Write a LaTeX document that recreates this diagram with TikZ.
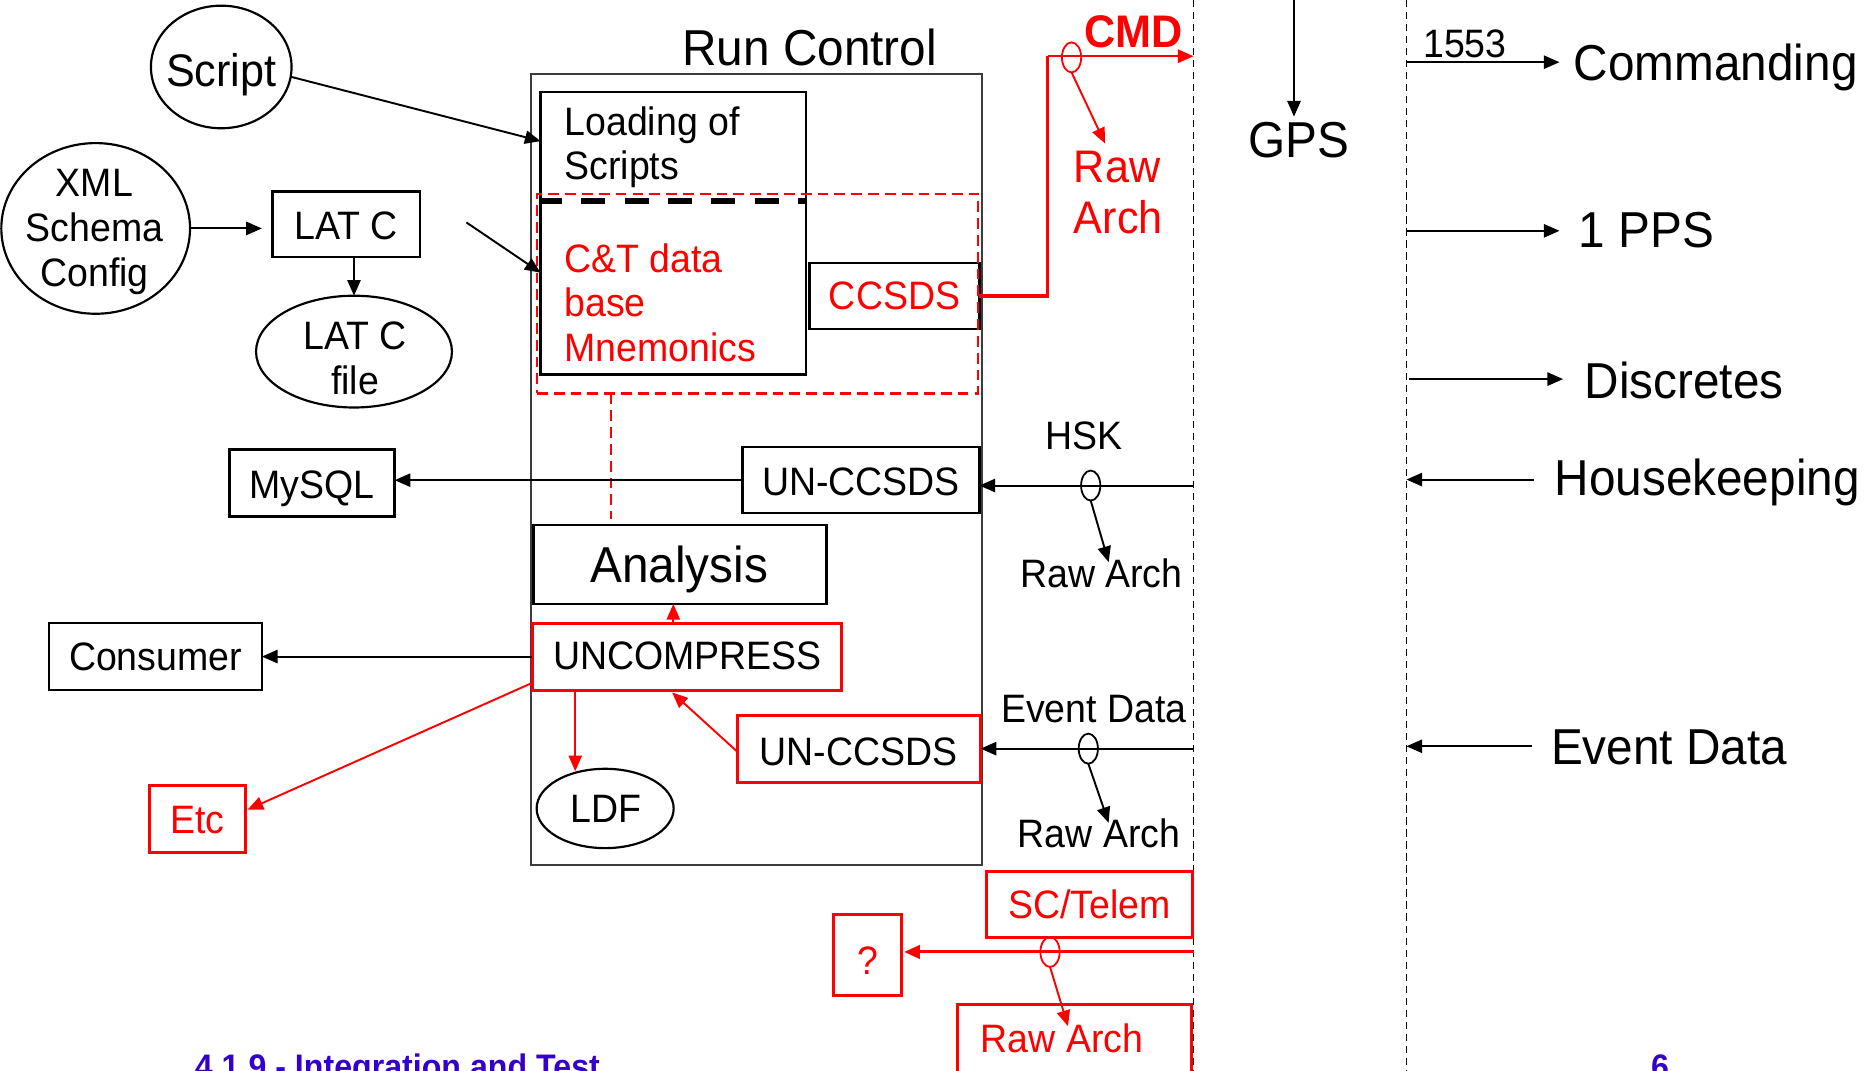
\documentclass[tikz,border=0pt]{standalone}
\usepackage{fontspec}
\setmainfont{Liberation Sans}[FakeStretch=0.945]
\usetikzlibrary{arrows.meta,shapes.geometric,fit,calc}
\definecolor{fblue}{RGB}{51,0,204}
\definecolor{rcgray}{RGB}{60,60,60}
\begin{document}
\begin{tikzpicture}[x=0.995pt,y=-0.995pt,
  every node/.style={inner sep=0pt,outer sep=0pt},
  fs/.style={font=\fontsize{33}{37.5}\selectfont},
  fm/.style={font=\fontsize{38}{42}\selectfont},
  fl/.style={font=\fontsize{42}{48}\selectfont},
  ff/.style={font=\fontsize{28.3}{34}\selectfont\bfseries, text=fblue},
  bx/.style={draw, line width=2pt},
  rbx/.style={draw=red, line width=2.5pt},
  ell/.style={draw, ellipse, line width=1.8pt},
  arr/.style={-{Triangle[length=13pt,width=11pt]}, line width=1.6pt},
  rarr/.style={arr, red},
  vdash/.style={line width=1.3pt, dash pattern=on 6pt off 4pt},
  tap/.style={draw, ellipse, line width=1.5pt, minimum width=16pt, minimum height=25pt},
  rdash/.style={draw=red, line width=2pt, dash pattern=on 9pt off 5pt},
]
\useasboundingbox (0,0) rectangle (1567.8,894.9);

% vertical dashed separators
\coordinate (d1t) at (998,0); \coordinate (d1b) at (998,900);
\coordinate (d2t) at (1176,0); \coordinate (d2b) at (1176,900);
\draw[vdash] (d1t) -- (d1b);
\draw[vdash] (d2t) -- (d2b);

% left side
\node[ell, minimum width=117pt, minimum height=102pt] (script) at (185,56) {};
\node[fm, anchor=base] (tscript) at (185,72) {Script};
\node[ell, minimum width=157pt, minimum height=142pt] (xml) at (80,191) {};
\node[fs, align=center] (txml) at (79,194) {XML\\Schema\\Config};
\node[bx, fit={(228,160)(351,215)}] (latc) {};
\node[fs, anchor=base] (tlatc) at (289.5,200) {LAT C};
\node[ell, minimum width=163pt, minimum height=93pt] (latcf) at (296,294) {};
\node[fs, align=center] (tlatcf) at (297,300) {LAT C\\file};
\draw[arr, shorten >=9pt] (xml.east) -- (latc.west |- xml.east);
\draw[arr] (latc.south -| latcf.north) -- (latcf.north);

\node[bx, fit={(192,376)(330,432)}] (mysql) {};
\node[fs, anchor=base] (tmysql) at (261,417) {MySQL};
\node[bx, fit={(41,521)(219,577)}] (cons) {};
\node[fs, anchor=base] (tcons) at (130,561) {Consumer};
\node[rbx, fit={(125,657)(205,713)}] (etc) {};
\node[fs, red, anchor=base] (tetc) at (165,697) {Etc};

% Run Control
\node[draw=rcgray, line width=1.4pt, fit={(444,62)(821,723)}] (rc) {};
\node[fl, anchor=base] (trc) at (677,55) {Run Control};
\node[bx, fit={(452,77)(674,313)}] (lc) {};
\draw[line width=4.5pt, dash pattern=on 20pt off 16pt, dash phase=2pt]
  ($(lc.north west)+(0,91)$) coordinate (dl) -- ($(lc.north east)+(0,91)$) coordinate (dr);
\node[fs, anchor=base west] (tl1) at (472,113) {Loading of};
\node[fs, anchor=base west] (tl2) at (472,150) {Scripts};
\node[fs, red, anchor=base west] (tc1) at (472,228) {C\&T data};
\node[fs, red, anchor=base west] (tc2) at (472,265) {base};
\node[fs, red, anchor=base west] (tc3) at (472,302) {Mnemonics};
\node[bx, fit={(677,220)(819,275)}] (ccsds) {};
\node[fs, red, anchor=base] (tccsds) at (748,259) {CCSDS};
\node[rdash, fit={(449,162)(818,329)}] (rdb) {};

\coordinate (ls) at ($(lc.north west)+(0,41)$);
\draw[arr] (script.-8) -- (ls);
\coordinate (fr) at (390,186);
\draw[arr] (fr) -- ($(lc.north west)+(0,151)$);

\node[bx, fit={(621,374)(819,429)}] (un1) {};
\node[fs, anchor=base] (tun1) at (720,414) {UN-CCSDS};
\node[bx, fit={(446,439)(691,505)}] (an) {};
\node[fl, anchor=base] (tan) at (568,487) {Analysis};
\node[rbx, fit={(445,521)(704,577)}] (unc) {};
\node[fs, anchor=base] (tunc) at (575,560) {UNCOMPRESS};
\node[rbx, fit={(617,598)(820,654)}] (un2) {};
\node[fs, anchor=base] (tun2) at (718,640) {UN-CCSDS};
\node[ell, minimum width=114pt, minimum height=66pt] (ldf) at (506,676) {};
\node[fs, anchor=base] (tldf) at (507,688) {LDF};

\draw[rdash] ($(rdb.south west)+(62,0)$) -- ($(an.north west)+(65,-5)$);

\draw[arr] (un1.west) -- (mysql.east |- un1.west);
\draw[arr] (unc.west) -- (cons.east |- unc.west);
\draw[rarr] ($(unc.south west)+(0,-6)$) -- ($(etc.east)+(2,-8)$);
\draw[rarr] ($(unc.north west)+(118,0)$) -- ($(an.south west)+(117,0)$);
\draw[rarr] ($(unc.south west)+(36,0)$) -- ($(ldf.north)+(-25,2)$);
\draw[rarr] ($(un2.west)+(0,3)$) -- ($(unc.south west)+(117,2)$);

% HSK
\coordinate (hskR) at (998,406);
\draw[arr] (hskR) -- (un1.east |- hskR);
\node[tap] (hske) at (912,406) {};
\node[fs, anchor=base west] (thsk) at (874,376) {HSK};
\node[fs, anchor=base west] (traw1) at (853,491) {Raw Arch};
\draw[arr] (hske.south) -- ($(traw1.base west)+(74,-21)$);

% Event data
\coordinate (evR) at (998,626);
\draw[arr] (evR) -- (un2.east |- evR);
\node[tap] (eve) at (910,626) {};
\node[fs, anchor=base west] (tev) at (837,604) {Event Data};
\node[fs, anchor=base west] (traw2) at (851,709) {Raw Arch};
\draw[arr] (eve.south) -- ($(traw2.base west)+(76,-21)$);

% SC/Telem
\node[rbx, fit={(825,729)(997,784)}] (sct) {};
\node[fs, red, anchor=base] (tsct) at (911,768) {SC/Telem};
\node[rbx, fit={(697,765)(754,832)}] (qq) {};
\node[fs, red, anchor=base] (tqq) at (726,815) {?};
\coordinate (scR) at (998,796);
\draw[rarr, line width=2.5pt, shorten >=2pt] (scR) -- (qq.east |- scR);
\node[tap, draw=red] (sce) at (878,796) {};
\node[rbx, fit={(801,840)(996,930)}] (rawb) {};
\node[fs, red, anchor=base west] (traw3) at (820,880) {Raw Arch};
\draw[rarr] (sce.south) -- ($(traw3.base west)+(73,-22)$);

% CMD
\coordinate (cmdT) at (998,47);
\coordinate (cmdC) at (876,47);
\draw[red, line width=3pt] (ccsds.east) -| (cmdC);
\draw[rarr, line width=2pt] (cmdC) -- (cmdT);
\node[tap, draw=red] (cmde) at (896,48) {};
\node[font=\fontsize{38}{42}\selectfont\bfseries, red, anchor=base west] (tcmd) at (907,40) {CMD};
\node[fm, red, anchor=base west] (traw0a) at (898,153) {Raw};
\node[fm, red, anchor=base west] (traw0b) at (898,195) {Arch};
\draw[rarr] (cmde.south) -- ($(traw0a.base west)+(26,-33)$);

% right side
\coordinate (gpsT) at (1082,0);
\node[fl, anchor=base] (gps) at (1086,132) {GPS};
\draw[arr, shorten >=5pt] (gpsT) -- (gpsT |- gps.north);
\node[fs, anchor=base west] (t1553) at (1190,48) {1553};
\node[fl, anchor=base west] (tcomm) at (1316,67) {Commanding};
\coordinate (c1) at (1176,52);
\draw[arr] (c1) -- ($(tcomm.base west)+(-12,-15)$);
\node[fl, anchor=base west] (tpps) at (1320,207) {1 PPS};
\coordinate (c2) at (1176,193);
\draw[arr] (c2) -- ($(tpps.base west)+(-16,-14)$);
\node[fl, anchor=base west] (tdisc) at (1325,333) {Discretes};
\coordinate (c3) at (1178,317);
\draw[arr] (c3) -- ($(tdisc.base west)+(-18,-16)$);
\node[fl, anchor=base west] (thk) at (1300,414) {Housekeeping};
\coordinate (c4) at (1176,401);
\draw[arr] ($(thk.base west)+(-17,-13)$) -- (c4);
\node[fl, anchor=base west] (tevd) at (1297,639) {Event Data};
\coordinate (c5) at (1176,624);
\draw[arr] ($(tevd.base west)+(-16,-15)$) -- (c5);

% footer (cut off by the lower edge, as in the reference)
\node[ff, anchor=base west] (foot) at (163,902) {4.1.9 - Integration and Test};
\node[ff, anchor=base] (pg) at (1388,902) {6};
\end{tikzpicture}
\end{document}
